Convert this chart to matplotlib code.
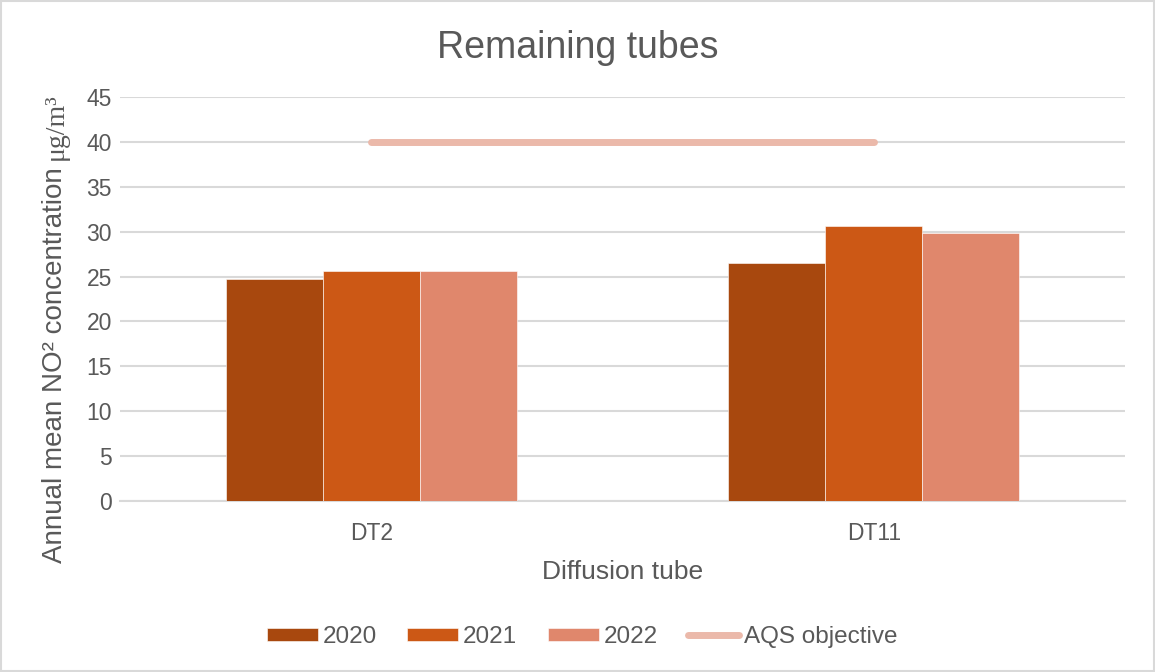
import numpy as np
import matplotlib.pyplot as plt
from matplotlib.patches import Rectangle

plt.rcParams["font.family"] = ["Liberation Sans", "DejaVu Sans"]

tubes = ["DT2", "DT11"]
years = ["2020", "2021", "2022"]
no2_2020 = [24.7, 26.5]
no2_2021 = [25.6, 30.6]
no2_2022 = [25.6, 29.8]
aqs = [40, 40]

colors = ["#A8480E", "#CC5815", "#E0876C"]
grey = "#595959"

fig = plt.figure(figsize=(11.55, 6.72), dpi=100)
ax = fig.add_axes([0.104, 0.2545, 0.870, 0.6012])

x = np.arange(len(tubes))
w = 0.193
series = [no2_2020, no2_2021, no2_2022]
handles = []
for i in range(3):
    b = ax.bar(x + (i - 1) * w, series[i], w, color=colors[i], label=years[i],
               edgecolor="white", linewidth=0.4, zorder=3)
    handles.append(b)

ln, = ax.plot(x, aqs, color="#EBB9AA", linewidth=5, solid_capstyle="round",
              label="AQS objective", zorder=4)
handles.append(ln)

ax.set_xlim(-0.5, 1.5)
ax.set_ylim(0, 45)
ax.set_yticks(range(0, 50, 5))
ax.set_xticks(x)
ax.set_xticklabels(tubes)
ax.grid(axis="y", color="#D9D9D9", linewidth=1.5, zorder=0)
for s in ["top", "right", "left"]:
    ax.spines[s].set_visible(False)
ax.spines["bottom"].set_color("#D9D9D9")
ax.spines["bottom"].set_linewidth(1.5)
ax.tick_params(length=0, labelsize=16.5, labelcolor=grey, pad=6)
ax.tick_params(axis="x", pad=15)

fig.text(0.5, 0.929, "Remaining tubes", fontsize=27, color=grey,
         ha="center", va="center")
ax.set_xlabel("Diffusion tube", fontsize=19, color=grey, labelpad=11)

# y label: sans part then serif unit
t1 = fig.text(0.054, 0.162, "Annual mean NO² concentration ", rotation=90,
              rotation_mode="anchor", ha="left", va="baseline",
              fontsize=20, color=grey)
fig.canvas.draw()
bb = t1.get_window_extent()
t2 = fig.text(0.054, bb.y1 / fig.bbox.height, "μg/m³", rotation=90,
              rotation_mode="anchor", ha="left", va="baseline",
              fontsize=20, color=grey, family="Liberation Serif")

fig.legend(handles, years + ["AQS objective"], loc="center",
           bbox_to_anchor=(0.504, 0.052), ncol=4, frameon=False,
           fontsize=17.5, labelcolor=grey, handlelength=2.1, handleheight=0.5,
           columnspacing=1.25, handletextpad=0.2)

fig.patches.append(Rectangle((0.001, 0.001), 0.998, 0.997, transform=fig.transFigure,
                             fill=False, edgecolor="#D9D9D9", linewidth=1.5))

fig.savefig("out.png", dpi=100)
